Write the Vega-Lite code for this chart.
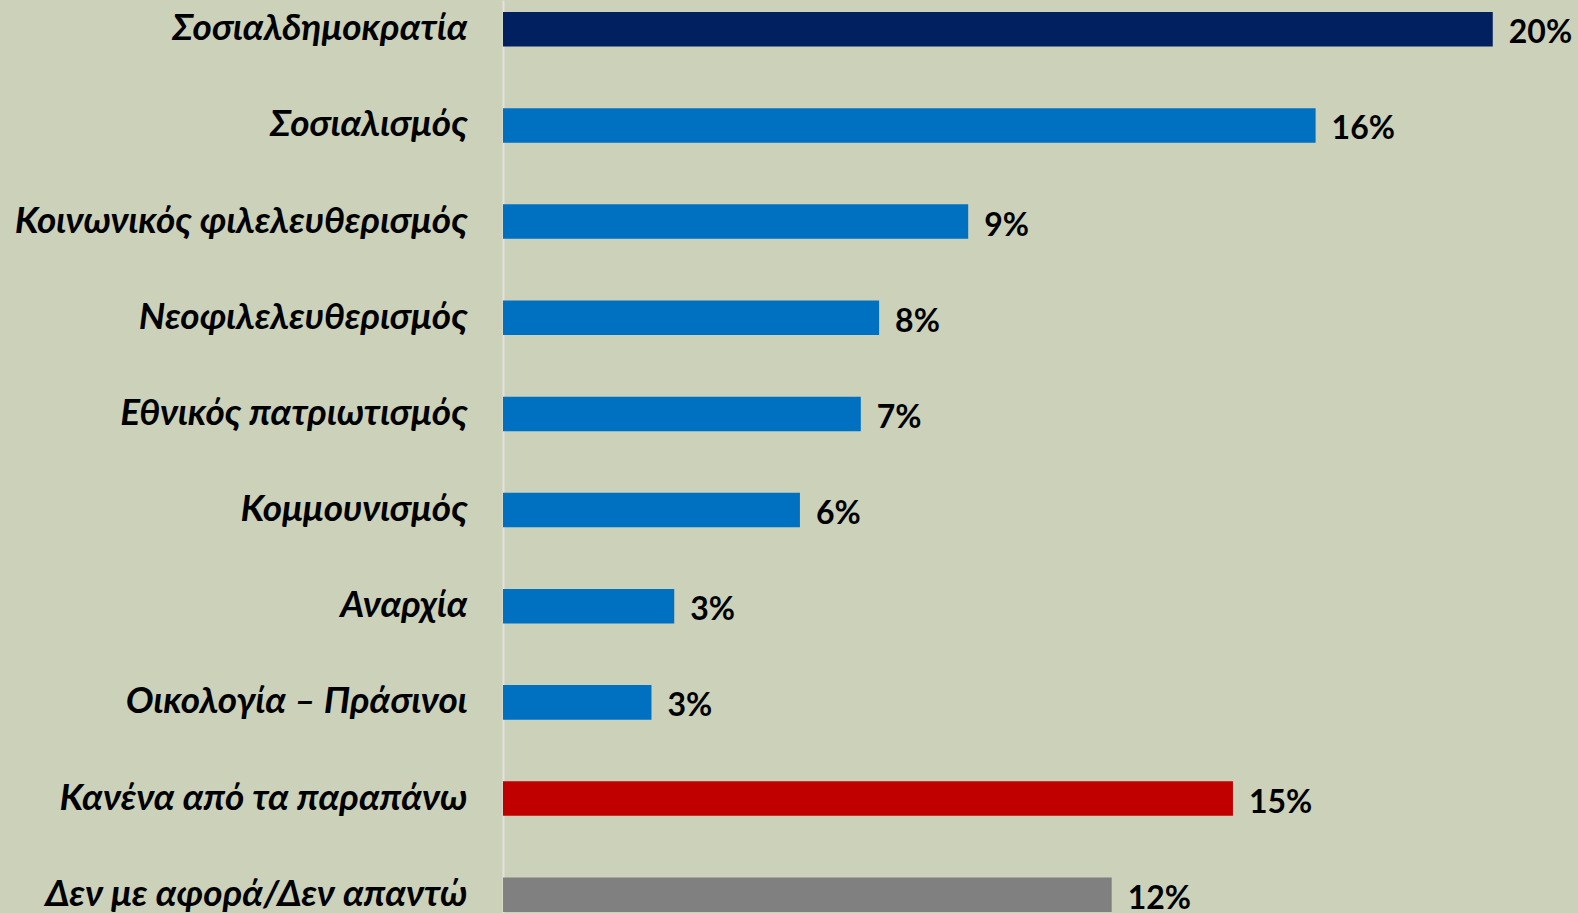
{
  "$schema": "https://vega.github.io/schema/vega-lite/v6.json",
  "width": 1064,
  "height": 913,
  "autosize": "none",
  "padding": {"left": 503, "top": 0, "right": 11, "bottom": 0},
  "background": "#CCD1BA",
  "config": {"view": {"stroke": null}},
  "data": {
    "values": [
      {"category": "Σοσιαλδημοκρατία", "value": 20.0, "label": "20%", "group": "top"},
      {"category": "Σοσιαλισμός", "value": 16.42, "label": "16%", "group": "main"},
      {"category": "Κοινωνικός φιλελευθερισμός", "value": 9.4, "label": "9%", "group": "main"},
      {"category": "Νεοφιλελευθερισμός", "value": 7.6, "label": "8%", "group": "main"},
      {"category": "Εθνικός πατριωτισμός", "value": 7.23, "label": "7%", "group": "main"},
      {"category": "Κομμουνισμός", "value": 6.0, "label": "6%", "group": "main"},
      {"category": "Αναρχία", "value": 3.46, "label": "3%", "group": "main"},
      {"category": "Οικολογία – Πράσινοι", "value": 3.0, "label": "3%", "group": "main"},
      {"category": "Κανένα από τα παραπάνω", "value": 14.75, "label": "15%", "group": "none"},
      {"category": "Δεν με αφορά/Δεν απαντώ", "value": 12.3, "label": "12%", "group": "dk"}
    ]
  },
  "encoding": {
    "y": {
      "field": "category",
      "type": "nominal",
      "sort": null,
      "title": null,
      "scale": {"paddingInner": 0.641, "paddingOuter": 0.068, "align": 0.92},
      "axis": {
        "ticks": false,
        "labelFont": "Lato",
        "labelFontSize": 37,
        "labelFontStyle": "italic",
        "labelFontWeight": "bold",
        "labelColor": "#000000",
        "labelPadding": 36,
        "labelLimit": 600,
        "domainColor": "#E2E4DA",
        "domainWidth": 2,
        "grid": false
      }
    },
    "x": {
      "field": "value",
      "type": "quantitative",
      "scale": {"domain": [0, 21.5], "nice": false},
      "axis": null
    }
  },
  "layer": [
    {
      "mark": {"type": "bar"},
      "encoding": {
        "color": {
          "field": "group",
          "type": "nominal",
          "scale": {"domain": ["top", "main", "none", "dk"], "range": ["#002060", "#0070C0", "#C00000", "#808080"]},
          "legend": null
        }
      }
    },
    {
      "mark": {"type": "text", "align": "left", "baseline": "middle", "dx": 16, "dy": 4, "font": "Lato", "fontSize": 32, "fontWeight": "bold", "color": "#000000"},
      "encoding": {"text": {"field": "label"}}
    }
  ]
}
